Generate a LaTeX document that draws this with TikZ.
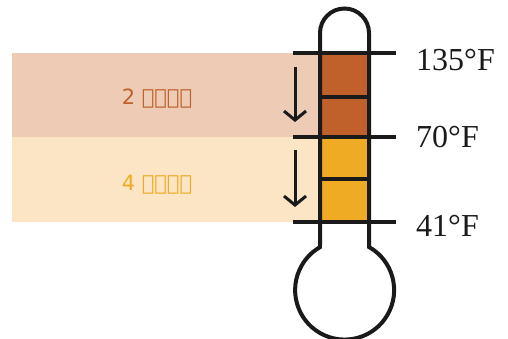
\documentclass[tikz,border=0pt]{standalone}
\usepackage{fontspec}
\setmainfont{Liberation Serif}
\newfontfamily\ethfont{DejaVu Sans}
\usetikzlibrary{arrows.meta}
\definecolor{hotfill}{HTML}{C0602A}
\definecolor{warmfill}{HTML}{F0AB24}
\definecolor{hotbg}{HTML}{EDCBB5}
\definecolor{warmbg}{HTML}{FBE5C5}
\definecolor{ink}{HTML}{1A1A1A}
\tikzset{
  outline/.style={draw=ink,line width=4pt},
  tick/.style={draw=ink,line width=4pt},
  downarrow/.style={draw=ink,line width=3pt,-{Straight Barb[length=9pt,width=22pt,line width=3pt]}},
  templabel/.style={font=\fontsize{32}{32}\selectfont,text=ink,anchor=west,inner sep=0pt},
  timelabel/.style={font=\ethfont\fontsize{21}{21}\selectfont,inner sep=0pt}
}
\begin{document}
\begin{tikzpicture}[x=1pt,y=-1pt]
\useasboundingbox (0,0) rectangle (508,339);
% background bands
\fill[hotbg] (12,53) rectangle (320,137);
\fill[warmbg] (12,137) rectangle (320,222);
% tube fills
\fill[hotfill] (320,53) rectangle (369,137);
\fill[warmfill] (320,137) rectangle (369,222);
% thermometer outline
\draw[outline,line join=miter] (320,247) -- (320,33) arc[start angle=180,end angle=360,radius=24.5] -- (369,247)
  arc[start angle=-60.5,end angle=240.5,radius=49.5] -- cycle;
\fill[white] (322,249) -- (367,249) -- (367,245) -- (322,245) -- cycle;
% ticks
\coordinate (t1l) at (293,53); \coordinate (t1r) at (396,53);
\coordinate (t2l) at (293,137); \coordinate (t2r) at (396,137);
\coordinate (t3l) at (293,222); \coordinate (t3r) at (396,222);
\coordinate (m1l) at (320,97); \coordinate (m1r) at (369,97);
\coordinate (m2l) at (320,179); \coordinate (m2r) at (369,179);
\draw[tick] (t1l) -- (t1r);
\draw[tick] (t2l) -- (t2r);
\draw[tick] (t3l) -- (t3r);
\draw[tick] (m1l) -- (m1r);
\draw[tick] (m2l) -- (m2r);
% arrows
\coordinate (a1s) at (295,67); \coordinate (a1e) at (295,122);
\coordinate (a2s) at (295,150); \coordinate (a2e) at (295,207);
\draw[downarrow] (a1s) -- (a1e);
\draw[downarrow] (a2s) -- (a2e);
% labels
\node[templabel] (l135) at (416,60) {135°F};
\node[templabel] (l70) at (416,137) {70°F};
\node[templabel] (l41) at (416,226) {41°F};
\node[timelabel,text=hotfill] (h2) at (157,99) {2 ሰዐታት};
\node[timelabel,text=warmfill] (h4) at (157,185) {4 ሰዐታት};
\end{tikzpicture}
\end{document}
